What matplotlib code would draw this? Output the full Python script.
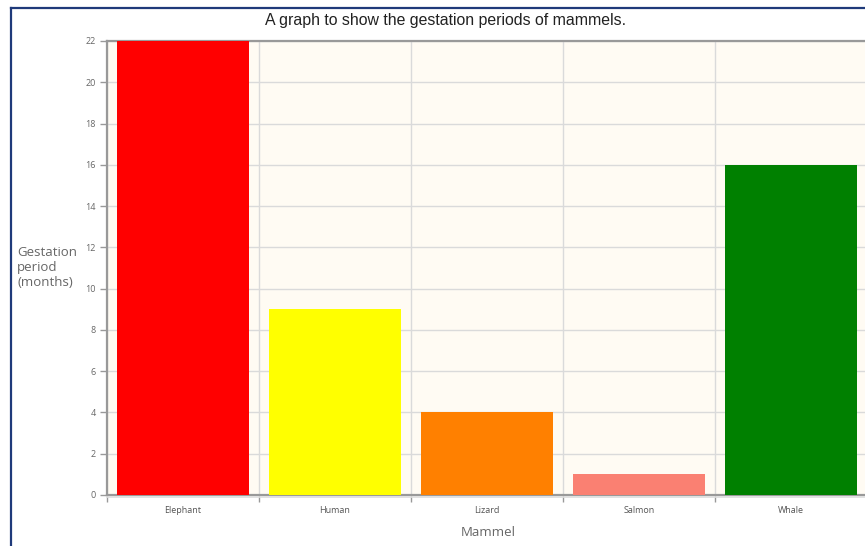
import matplotlib
matplotlib.use("Agg")
import matplotlib.pyplot as plt
from matplotlib.lines import Line2D
from matplotlib.ticker import MultipleLocator, FixedLocator
import numpy as np

categories = ["Elephant", "Human", "Lizard", "Salmon", "Whale"]
values = [22, 9, 4, 1, 16]
colors = ["#FF0000", "#FFFF00", "#FF8000", "#FA8072", "#008000"]
title = "A graph to show the gestation periods of mammels."
xlabel = "Mammel"
ylabel = "Gestation\nperiod\n(months)"

W, H = 865, 546
fig = plt.figure(figsize=(W / 100, H / 100), dpi=100)
fig.patch.set_facecolor("white")

L, R, T, B = 107, 867, 41, 495
ax = fig.add_axes([L / W, 1 - B / H, (R - L) / W, (B - T) / H])
ax.set_facecolor("#FFFBF3")

x = np.arange(len(categories))
ax.bar(x, values, width=132 / 152, color=colors, zorder=3)

ax.set_xlim(-0.5, len(categories) - 0.5)
ax.set_ylim(0, 22)
ax.yaxis.set_major_locator(MultipleLocator(2))
ax.xaxis.set_major_locator(FixedLocator(x))
ax.xaxis.set_minor_locator(FixedLocator(np.arange(len(categories) + 1) - 0.5))
ax.set_xticklabels(categories, fontsize=6.5, color="#555555", family="Open Sans")
ax.tick_params(axis="x", which="major", length=0, pad=8)
ax.tick_params(axis="x", which="minor", length=5, color="#999999", width=1)
ax.tick_params(axis="y", length=5, color="#999999", width=1, labelsize=6.5,
               labelcolor="#666666", pad=3)
for lbl in ax.get_yticklabels():
    lbl.set_family("Open Sans")

ax.grid(True, axis="y", color="#DADADA", linewidth=1, zorder=1)
ax.grid(True, axis="x", which="minor", color="#DADADA", linewidth=1, zorder=1)
ax.grid(False, axis="x", which="major")

for s in ["left", "bottom", "top"]:
    ax.spines[s].set_color("#999999")
    ax.spines[s].set_linewidth(1.6)
ax.spines["right"].set_visible(False)

# shadow under bottom axis
fig.add_artist(Line2D([L / W, R / W], [1 - (B + 2) / H] * 2, color="#DDDDDD", lw=1.2))

fig.text(446 / W, 1 - 21 / H, title, ha="center", va="center", fontsize=11.4,
         color="#222222", family="Liberation Sans")
fig.text(488 / W, 1 - 533 / H, xlabel, ha="center", va="center", fontsize=9.5,
         color="#666666", family="Open Sans")
fig.text(17 / W, 1 - 268 / H, ylabel, ha="left", va="center", fontsize=9.5,
         color="#666666", family="Open Sans", linespacing=1.2)

# outer border
fig.add_artist(Line2D([11 / W, 11 / W], [0, 1 - 8 / H], color="#1F3A7A", lw=1.6))
fig.add_artist(Line2D([11 / W, 1.0], [1 - 8 / H, 1 - 8 / H], color="#1F3A7A", lw=1.6))

fig.savefig("out.png", dpi=100)
